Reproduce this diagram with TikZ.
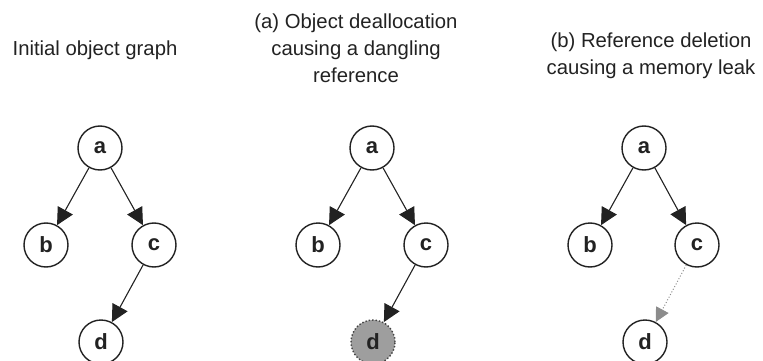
\documentclass[tikz,border=0pt]{standalone}
\usepackage{fontspec}
\setmainfont{Liberation Sans}
\usetikzlibrary{arrows.meta}
\definecolor{ink}{HTML}{222222}
\definecolor{freed}{HTML}{9E9E9E}
\definecolor{lost}{HTML}{8C8C8C}
\tikzset{
  obj/.style={circle, draw=ink, line width=1.4pt, minimum size=44pt, inner sep=0pt,
    font=\fontsize{22}{22}\selectfont\bfseries, text=ink, fill=white},
  freedobj/.style={obj, fill=freed, dotted, draw=ink!85},
  ref/.style={draw=ink, line width=1.1pt, -{Triangle[length=17pt,width=17pt]}},
  lostref/.style={draw=lost, line width=1pt, dotted, -{Triangle[length=14pt,width=14pt]}},
  caption/.style={align=center, text=ink, font=\fontsize{20.3}{27}\selectfont}
}
\begin{document}
\begin{tikzpicture}[x=1pt, y=-1pt]
  \useasboundingbox (0,0) rectangle (763,361);

  % Initial object graph
  \node[caption] (t0) at (95,50) {Initial object graph};
  \node[obj] (a0) at (100,148) {a};
  \node[obj] (b0) at (46,245) {b};
  \node[obj] (c0) at (154,245) {c};
  \node[obj] (d0) at (101,342) {d};
  \draw[ref] (a0) -- (b0);
  \draw[ref] (a0) -- (c0);
  \draw[ref] (c0) -- (d0);

  % (a) dangling reference
  \node[caption] (t1) at (356,48) {(a) Object deallocation\\causing a dangling\\reference};
  \node[obj] (a1) at (372,148) {a};
  \node[obj] (b1) at (318,245) {b};
  \node[obj] (c1) at (426,245) {c};
  \node[freedobj] (d1) at (373,342) {d};
  \draw[ref] (a1) -- (b1);
  \draw[ref] (a1) -- (c1);
  \draw[ref] (c1) -- (d1);

  % (b) memory leak
  \node[caption] (t2) at (651,56) {(b) Reference deletion\\causing a memory leak};
  \node[obj] (a2) at (644,148) {a};
  \node[obj] (b2) at (590,245) {b};
  \node[obj] (c2) at (697,245) {c};
  \node[obj] (d2) at (645,342) {d};
  \draw[ref] (a2) -- (b2);
  \draw[ref] (a2) -- (c2);
  \draw[lostref] (c2) -- (d2);
\end{tikzpicture}
\end{document}
